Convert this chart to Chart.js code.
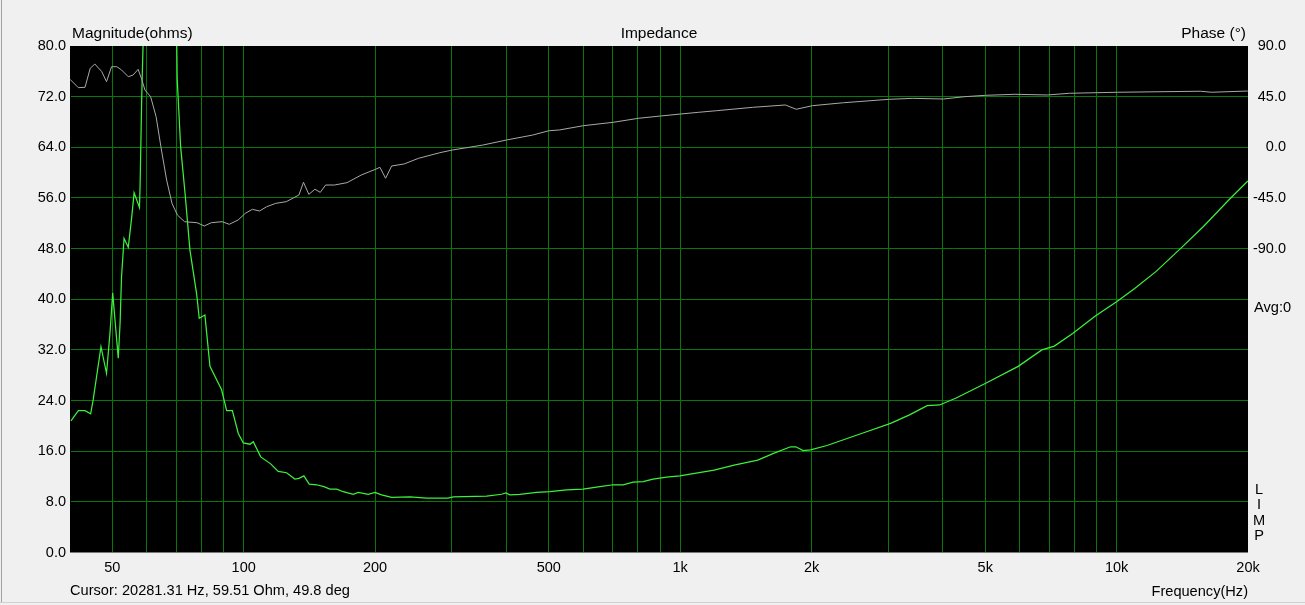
<!DOCTYPE html>
<html>
<head>
<meta charset="utf-8">
<script src="https://cdn.jsdelivr.net/npm/chart.js@4/dist/chart.umd.min.js"></script>
<style>
  html, body { margin: 0; padding: 0; background: #f0f0f0; }
  #wrap { position: relative; width: 1305px; height: 605px; }
  canvas { display: block; }
</style>
</head>
<body>
<div id="wrap"><canvas id="c" width="1305" height="605"></canvas></div>
<script>
// ---- Data ----
const impFreq = [40.2, 41.8, 43.3, 44.6, 45.2, 47.1, 48.5, 49.4, 50.1, 51.6, 52.1, 52.5, 53.2, 54.4, 55.4, 56.1, 57.7, 57.9, 58.4, 58.9, 63.5, 70.2, 70.4, 71.7, 73.4, 75.3, 78.0, 79.1, 81.5, 83.7, 89.0, 91.4, 94.2, 97.2, 99.8, 103.4, 105.2, 109.4, 115.3, 120.0, 125.4, 131.0, 133.8, 137.4, 141.3, 146.9, 152.7, 157.6, 163.3, 169.1, 178.2, 183.0, 192.9, 199.9, 207.0, 218.3, 240.3, 262.5, 294.1, 302.0, 360.2, 389.8, 398.7, 407.2, 429.2, 468.8, 502.9, 549.2, 599.4, 654.6, 702.1, 740.1, 780.2, 822.4, 867.1, 930.6, 998, 1196, 1329, 1506, 1642, 1791, 1841, 1913, 1990, 2170, 2603, 3035, 3344, 3680, 3930, 4290, 5000, 5950, 6740, 7200, 7930, 8920, 9999, 11000, 12320, 14100, 15810, 18140, 19990];
const impOhm = [20.8, 22.4, 22.4, 21.9, 24.1, 32.5, 28.3, 34.7, 41.0, 30.7, 36.3, 43.6, 49.6, 48.2, 53.0, 56.8, 54.5, 58.0, 72.0, 82.0, 105.0, 82.0, 74.9, 64.1, 56.7, 47.8, 40.9, 37.0, 37.5, 29.4, 25.7, 22.4, 22.4, 18.8, 17.3, 17.1, 17.5, 15.1, 14.0, 12.8, 12.6, 11.6, 11.7, 12.1, 10.8, 10.7, 10.4, 10.0, 10.0, 9.6, 9.2, 9.5, 9.2, 9.5, 9.1, 8.7, 8.8, 8.6, 8.6, 8.8, 8.9, 9.2, 9.4, 9.1, 9.2, 9.5, 9.6, 9.9, 10.0, 10.4, 10.7, 10.7, 11.1, 11.2, 11.6, 11.9, 12.1, 13.0, 13.8, 14.6, 15.7, 16.7, 16.7, 16.1, 16.2, 16.9, 18.8, 20.4, 21.7, 23.2, 23.3, 24.4, 26.7, 29.4, 32.0, 32.6, 34.6, 37.3, 39.6, 41.7, 44.4, 48.2, 51.5, 55.8, 58.7];

const phaseFreq = [40.0, 41.8, 43.3, 44.5, 45.6, 47.3, 48.5, 49.8, 51.2, 52.5, 54.4, 55.8, 57.3, 58.4, 59.4, 61.2, 63.0, 64.8, 66.6, 68.5, 70.5, 73.2, 78.2, 81.2, 84.3, 89.2, 92.7, 97.1, 100.9, 104.7, 108.7, 112.9, 118.4, 125.2, 133.8, 137.1, 141.0, 145.6, 149.8, 154.1, 161.5, 172.5, 186.0, 200.6, 205.2, 211.4, 218.3, 233.2, 251.4, 281.5, 300.7, 353.1, 400.4, 459.5, 500.1, 529.0, 600.4, 701.8, 803.8, 901.7, 1004, 1103, 1210, 1466, 1742, 1845, 2012, 2369, 3001, 3413, 4011, 4466, 5011, 5844, 6947, 7797, 10068, 15561, 16492, 19980];
const phaseDeg = [60.4, 53.0, 53.3, 70.2, 74.0, 67.2, 58.3, 71.6, 71.6, 68.7, 62.7, 64.2, 69.3, 60.4, 50.9, 45.0, 27.2, -2.4, -29.1, -49.8, -60.2, -66.1, -67.0, -69.9, -67.0, -66.1, -68.4, -64.6, -58.6, -55.1, -56.6, -52.8, -49.8, -48.3, -42.4, -31.1, -41.8, -37.3, -40.0, -33.5, -33.5, -31.4, -24.6, -19.5, -17.8, -27.5, -16.6, -14.8, -9.8, -4.8, -2.4, 2.0, 6.5, 10.9, 14.7, 15.4, 19.2, 22.2, 25.8, 27.8, 29.6, 31.1, 32.5, 35.5, 37.6, 33.8, 37.0, 39.6, 42.6, 43.5, 42.9, 44.9, 46.2, 47.1, 46.5, 48.0, 48.9, 49.8, 48.9, 50.0];

const xGridValues = [50, 60, 70, 80, 90, 100, 200, 300, 400, 500, 600, 700, 800, 900, 1000, 2000, 3000, 4000, 5000, 6000, 7000, 8000, 9000, 10000, 20000];
const xTickLabels = {50: '50', 100: '100', 200: '200', 500: '500', 1000: '1k', 2000: '2k', 5000: '5k', 10000: '10k', 20000: '20k'};
const phaseLabelMin = -90;

const texts = {
  leftTitle: 'Magnitude(ohms)',
  title: 'Impedance',
  rightTitle: 'Phase (°)',
  cursor: 'Cursor: 20281.31 Hz, 59.51 Ohm, 49.8 deg',
  xTitle: 'Frequency(Hz)',
  avg: 'Avg:0',
  limp: ['L', 'I', 'M', 'P']
};

// ---- Chart ----
const FONT = '"Liberation Sans", Arial, sans-serif';
Chart.defaults.font.family = FONT;
Chart.defaults.font.size = 14;
Chart.defaults.color = '#000';

const GRID = 'rgb(8,120,8)';
const NONE = 'rgba(0,0,0,0)';

const bgPlugin = {
  id: 'bg',
  beforeDraw(chart) {
    const { ctx, chartArea: a } = chart;
    ctx.save();
    ctx.fillStyle = '#f0f0f0';
    ctx.fillRect(0, 0, chart.width, chart.height);
    ctx.fillStyle = '#000';
    ctx.fillRect(a.left, a.top, a.right - a.left, a.bottom - a.top);
    ctx.restore();
  },
  afterDraw(chart) {
    const { ctx, chartArea: a } = chart;
    ctx.save();
    ctx.fillStyle = '#000';
    ctx.textBaseline = 'middle';
    ctx.font = '15.5px ' + FONT;
    const ty = a.top - 12;
    ctx.textAlign = 'left';
    ctx.fillText(texts.leftTitle, a.left + 2, ty);
    ctx.textAlign = 'center';
    ctx.fillText(texts.title, (a.left + a.right) / 2, ty);
    ctx.textAlign = 'right';
    ctx.fillText(texts.rightTitle, a.right - 2, ty);
    ctx.font = '14.6px ' + FONT;
    const by = a.bottom + 38;
    ctx.textAlign = 'left';
    ctx.fillText(texts.cursor, a.left, by);
    ctx.textAlign = 'right';
    ctx.fillText(texts.xTitle, a.right, by + 1);
    ctx.textAlign = 'left';
    ctx.fillText(texts.avg, a.right + 6, a.top + 262);
    ctx.textAlign = 'center';
    const lx = a.right + 11;
    texts.limp.forEach((ch, i) => {
      ctx.fillText(ch, lx, a.bottom - 63 + i * 15.5);
    });
    // window frame lines
    ctx.strokeStyle = '#a0a0a0';
    ctx.lineWidth = 1;
    ctx.beginPath();
    ctx.moveTo(1.5, 0); ctx.lineTo(1.5, 602);
    ctx.stroke();
    ctx.strokeStyle = '#d0d0d0';
    ctx.beginPath();
    ctx.moveTo(0, 602.5); ctx.lineTo(chart.width, 602.5);
    ctx.stroke();
    ctx.restore();
  }
};

new Chart(document.getElementById('c'), {
  type: 'line',
  data: {
    datasets: [
      {
        label: 'Phase',
        data: phaseFreq.map((f, i) => ({ x: f, y: phaseDeg[i] })),
        yAxisID: 'y2',
        borderColor: '#a8a8a8',
        borderWidth: 1,
        pointRadius: 0,
        tension: 0
      },
      {
        label: 'Impedance',
        data: impFreq.map((f, i) => ({ x: f, y: impOhm[i] })),
        yAxisID: 'y',
        borderColor: '#3cf03c',
        borderWidth: 1.25,
        pointRadius: 0,
        tension: 0
      }
    ]
  },
  options: {
    responsive: false,
    animation: false,
    events: [],
    layout: { padding: { top: 46, right: 19, left: 0, bottom: 0 } },
    plugins: { legend: { display: false }, tooltip: { enabled: false } },
    scales: {
      x: {
        type: 'logarithmic',
        min: 40,
        max: 20000,
        afterBuildTicks(axis) {
          axis.ticks = xGridValues.map(v => ({ value: v }));
        },
        afterFit(axis) { axis.height = 52.5; },
        ticks: {
          autoSkip: false,
          maxRotation: 0,
          padding: 7,
          font: { size: 14.5 },
          callback(value) { return xTickLabels[value] || ''; }
        },
        grid: {
          drawTicks: false,
          color: ctx => (ctx.tick && ctx.tick.value >= 20000) ? NONE : GRID,
          lineWidth: 1
        },
        border: { display: true, color: NONE, width: 1 }
      },
      y: {
        position: 'left',
        min: 0,
        max: 80,
        afterFit(axis) { axis.width = 70; },
        ticks: {
          stepSize: 8,
          padding: 4,
          font: { size: 14.5 },
          callback(v) { return v.toFixed(1); }
        },
        grid: {
          drawTicks: false,
          color: ctx => (ctx.tick && (ctx.tick.value === 0 || ctx.tick.value === 80)) ? NONE : GRID,
          lineWidth: 1
        },
        border: { display: true, color: NONE, width: 1 }
      },
      y2: {
        position: 'right',
        min: -360,
        max: 90,
        afterFit(axis) { axis.width = 38; },
        ticks: {
          stepSize: 45,
          crossAlign: 'far',
          padding: 4,
          font: { size: 14.5 },
          callback(v) { return v >= phaseLabelMin ? v.toFixed(1) : ''; }
        },
        grid: { display: false, drawTicks: false },
        border: { display: false }
      }
    }
  },
  plugins: [bgPlugin]
});
</script>
</body>
</html>
